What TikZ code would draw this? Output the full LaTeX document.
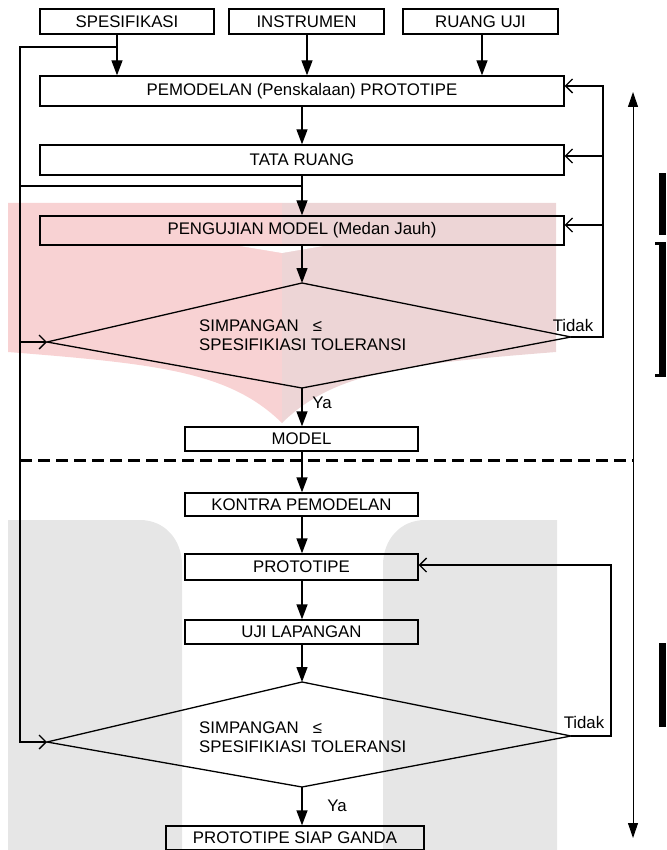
\documentclass[tikz,border=0pt]{standalone}
\usepackage{fontspec}
\setmainfont{Liberation Sans}
\usetikzlibrary{arrows.meta,calc}
\definecolor{pinkL}{HTML}{F8D2D3}
\definecolor{pinkR}{HTML}{EDD5D6}
\definecolor{grayW}{HTML}{E6E6E6}
\begin{document}
\begin{tikzpicture}[x=1pt,y=-1pt,
  txt/.style={font=\fontsize{16.8}{19.5}\selectfont},
  box/.style={txt,draw,line width=1.3pt,inner sep=0pt},
  ln/.style={line width=1.3pt},
  arr/.style={line width=1.3pt,-{Triangle[length=15pt,width=11pt]}},
  fb/.style={line width=1.3pt,-{Straight Barb[length=7pt,width=14pt]}},
  lbl/.style={txt,inner sep=0pt}]
\useasboundingbox (0,0) rectangle (666,850);
% watermark
\fill[pinkL] (8,203) -- (282,203) -- (282,423) .. controls (230,372) and (160,364) .. (8,352) -- cycle;
\fill[pinkR] (282,203) -- (556,203) -- (556,352) .. controls (404,364) and (334,372) .. (282,423) -- cycle;
\fill[white] (237,245.5) -- (326,245.5) -- (282,253) -- cycle;
\fill[grayW] (8,850) -- (8,520) -- (140,520) .. controls (165,520) and (182,540) .. (182,565) -- (182,850) -- cycle;
\fill[grayW] (557,850) -- (557,520) -- (425,520) .. controls (400,520) and (383,540) .. (383,565) -- (383,850) -- cycle;
% cropped marks at right edge
\fill (659,173) rectangle (666,235);
\fill (659,242) rectangle (666,376);
\fill (655,241.5) rectangle (666,244.5);
\fill (655,374) rectangle (666,377);
\fill (659,643) rectangle (666,727);
% boxes
\node[box,minimum width=174pt,minimum height=25pt] (spec) at (127,21.5) {SPESIFIKASI};
\node[box,minimum width=155pt,minimum height=25pt] (instr) at (306.5,21.5) {INSTRUMEN};
\node[box,minimum width=155pt,minimum height=25pt] (ruang) at (480.5,21.5) {RUANG UJI};
\node[box,minimum width=524pt,minimum height=30pt] (pemod) at (302,91) {PEMODELAN (Penskalaan) PROTOTIPE};
\node[box,minimum width=524pt,minimum height=30pt] (tata) at (302,160) {TATA RUANG};
\node[box,minimum width=524pt,minimum height=29pt] (peng) at (302,230.5) {PENGUJIAN MODEL (Medan Jauh)};
\node[box,minimum width=233pt,minimum height=24pt] (model) at (301.5,439) {MODEL};
\node[box,minimum width=233pt,minimum height=23pt] (kontra) at (301.5,504.5) {KONTRA PEMODELAN};
\node[box,minimum width=233pt,minimum height=26pt] (proto) at (301.5,567) {PROTOTIPE};
\node[box,minimum width=233pt,minimum height=24pt] (uji) at (301.5,632) {UJI LAPANGAN};
\node[box,minimum width=258pt,minimum height=24pt] (siap) at (295,838) {PROTOTIPE SIAP GANDA};
% diamonds
\coordinate (d1t) at (302,283);
\coordinate (d1r) at (571,337);
\coordinate (d1b) at (302,388);
\coordinate (d1l) at (47,342);
\draw[ln] (d1t) -- (d1r) -- (d1b) -- (d1l) -- cycle;
\node[lbl,anchor=west,align=left] (d1txt) at (199,335) {SIMPANGAN\hspace{14pt}≤\\SPESIFIKIASI TOLERANSI};
\coordinate (d2t) at (302,682);
\coordinate (d2r) at (571,736);
\coordinate (d2b) at (302,787);
\coordinate (d2l) at (47,742);
\draw[ln] (d2t) -- (d2r) -- (d2b) -- (d2l) -- cycle;
\node[lbl,anchor=west,align=left] (d2txt) at (199,737) {SIMPANGAN\hspace{14pt}≤\\SPESIFIKIASI TOLERANSI};
% labels
\node[lbl] (t1) at (573,325) {Tidak};
\node[lbl] (t2) at (584,722) {Tidak};
\node[lbl] (y1) at (322,403) {Ya};
\node[lbl] (y2) at (337,806) {Ya};
% dashed separator and phase arrows
\coordinate (dl) at (20,460);
\coordinate (vm) at (633,460);
\coordinate (vt) at (633,92);
\coordinate (vb) at (633,838);
\draw[line width=3pt,dash pattern=on 12pt off 6pt] (dl) -- (vm);
\draw[line width=1pt,-{Triangle[length=15pt,width=10pt]}] (vm) -- (vt);
\draw[line width=1pt,-{Triangle[length=15pt,width=10pt]}] (vm) -- (vb);
% main flow
\draw[arr] ([xshift=-10pt]spec.south) -- ([xshift=-10pt]spec.south |- pemod.north);
\draw[arr] ([xshift=0.5pt]instr.south) -- ([xshift=0.5pt]instr.south |- pemod.north);
\draw[arr] ([xshift=1.5pt]ruang.south) -- ([xshift=1.5pt]ruang.south |- pemod.north);
\draw[arr] (pemod.south) -- (tata.north);
\draw[arr] (tata.south) -- (peng.north);
\draw[arr] (peng.south) -- (d1t);
\draw[arr] (d1b) -- (d1b |- model.north);
\draw[arr] (model.south -| d1b) -- (kontra.north -| d1b);
\draw[arr] (kontra.south -| d1b) -- (proto.north -| d1b);
\draw[arr] (proto.south -| d1b) -- (uji.north -| d1b);
\draw[arr] (uji.south -| d1b) -- (d2t);
\draw[arr] (d2b) -- (d2b |- siap.north);
% left line
\coordinate (L0) at (117,47);
\coordinate (L2) at (20,742);
\coordinate (L3) at (20,342);
\coordinate (L4) at (20,186);
\draw[fb] (L0) -| (L2) -- (d2l);
\draw[fb] (L3) -- (d1l);
\draw[ln] (L4) -- (L4 -| tata.south);
% right feedback (top)
\coordinate (R1) at (603,86);
\coordinate (R2) at (603,156);
\coordinate (R3) at (603,225);
\draw[fb] (d1r) -| (R1) -- (R1 -| pemod.east);
\draw[fb] (R2) -- (R2 -| tata.east);
\draw[fb] (R3) -- (R3 -| peng.east);
% right feedback (bottom)
\coordinate (S1) at (611,565);
\draw[fb] (d2r) -| (S1) -- (S1 -| proto.east);
\end{tikzpicture}
\end{document}
